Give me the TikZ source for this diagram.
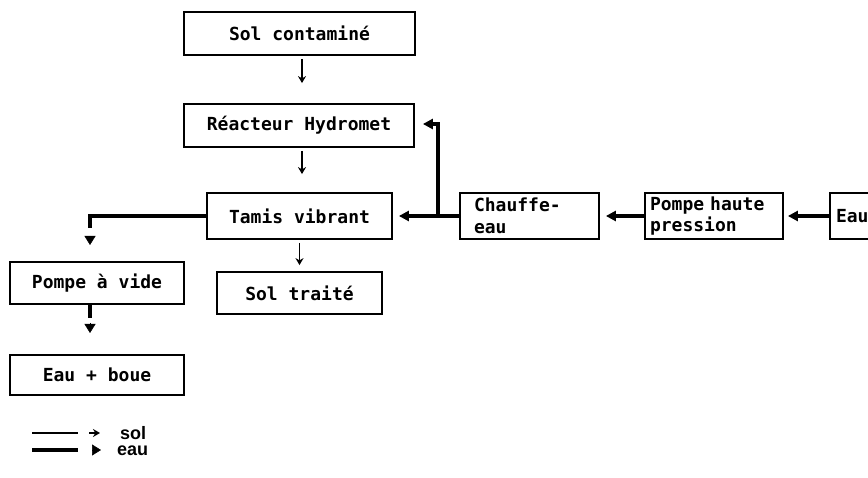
\documentclass[tikz,border=0pt]{standalone}
\usepackage{fontspec}
\setmonofont{DejaVu Sans Mono}
\newfontfamily\legfont{Liberation Sans}
\usetikzlibrary{arrows.meta,calc}
\begin{document}
\begin{tikzpicture}[x=1pt,y=-1pt,
  box/.style={draw,line width=1.8pt,inner sep=0pt,font=\ttfamily\bfseries\fontsize{18}{21.5}\selectfont},
  lbox/.style={box,align=left,text width=#1},
  thinarr/.style={line width=1.6pt,-{Stealth[length=7pt,width=8pt]}},
  thickline/.style={line width=4.5pt},
  thickarr/.style={line width=4.5pt,-{Triangle[length=10pt,width=10pt]}},
  tiponly/.style={line width=0.5pt,-{Triangle[length=9pt,width=11pt]}},
  legtext/.style={anchor=west,inner sep=0pt,font=\legfont\bfseries\fontsize{18}{20}\selectfont}]
\clip (0,0) rectangle (868,478);
% boxes
\node[box,minimum width=231pt,minimum height=43pt] (sc) at (299.5,33.5) {Sol contaminé};
\node[box,minimum width=230pt,minimum height=43pt] (re) at (299,125.5) {Réacteur Hydromet};
\node[box,minimum width=185pt,minimum height=46pt] (tv) at (299.5,216) {Tamis vibrant};
\node[box,minimum width=165pt,minimum height=42pt] (st) at (299.5,293) {Sol traité};
\node[box,minimum width=174pt,minimum height=42pt] (pv) at (97,283) {Pompe à vide};
\node[box,minimum width=174pt,minimum height=40pt] (eb) at (97,375) {Eau + boue};
\node[lbox=111pt,inner xsep=14pt,minimum height=46pt] (ch) at (529.5,216) {Chauffe-\\eau};
\node[lbox=128pt,inner xsep=5pt,minimum height=46pt] (ph) at (714,216) {Pompe haute\\pression};
\node[lbox=68pt,inner xsep=6pt,minimum height=46pt] (eau) at (870,216) {Eau};
% thin (sol) connectors
\draw[thinarr,shorten <=3pt,shorten >=20pt] ([xshift=2.5pt]sc.south) -- ([xshift=2.5pt]sc.south |- re.north);
\draw[thinarr,shorten <=3pt,shorten >=18pt] ([xshift=3pt]re.south) -- ([xshift=3pt]re.south |- tv.north);
\draw[thinarr,shorten <=3pt,shorten >=6pt] (tv.south) -- (tv.south |- st.north);
% thick (eau) connectors
\draw[thickarr,shorten >=4pt] (eau.west) -- (ph.east);
\draw[thickarr,shorten >=6pt] (ph.west) -- (ch.east);
\draw[thickarr,shorten >=6pt] (ch.west) -- (tv.east);
\coordinate (j) at (438,216);
\draw[thickarr,shorten >=8pt] (j) |- ([yshift=1.5pt]re.east);
\coordinate (c1) at (90,228);
\coordinate (c2) at (90,236);
\coordinate (c3) at (90,245);
\draw[thickline] (tv.west) -| (c1);
\draw[tiponly] (c2) -- (c3);
\coordinate (d1) at (90,305);
\coordinate (d2) at (90,318);
\coordinate (d3) at (90,323);
\coordinate (d4) at (90,333);
\draw[line width=4pt] (d1) -- (d2);
\draw[tiponly] (d3) -- (d4);
% legend
\coordinate (l1) at (32,433);
\coordinate (l2) at (78,433);
\coordinate (l3) at (89,433);
\coordinate (l4) at (100,433);
\draw[line width=1.5pt] (l1) -- (l2);
\draw[thinarr] (l3) -- (l4);
\node[legtext] (lsol) at (120,433) {sol};
\coordinate (m1) at (32,450);
\coordinate (m2) at (78,450);
\coordinate (m3) at (92,450);
\coordinate (m4) at (101,450);
\draw[line width=4.5pt] (m1) -- (m2);
\draw[tiponly] (m3) -- (m4);
\node[legtext] (leau) at (117,451) {eau};
\end{tikzpicture}
\end{document}
